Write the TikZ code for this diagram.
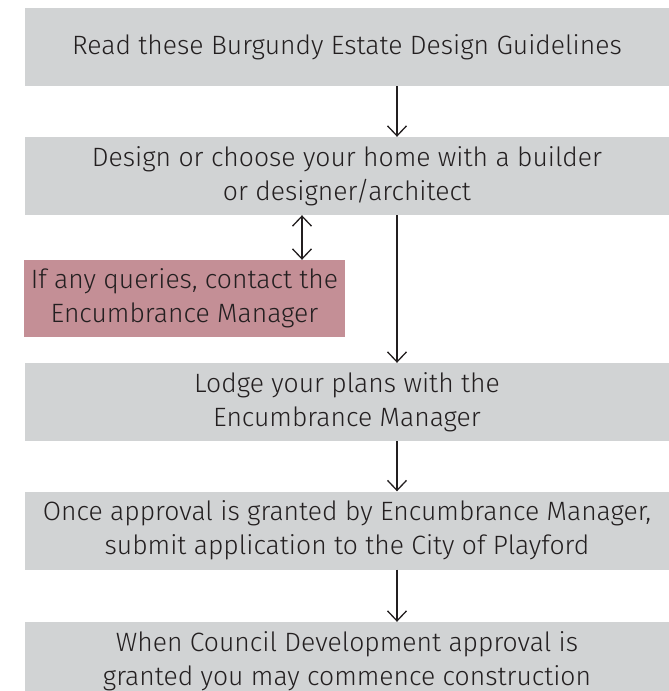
\documentclass[tikz,border=0pt]{standalone}
\usepackage{fontspec}
\setmainfont{Fira Sans}[UprightFont=* Light]
\usetikzlibrary{arrows.meta}

\definecolor{boxgrey}{RGB}{209,211,212}
\definecolor{boxpink}{RGB}{196,143,150}
\definecolor{ink}{RGB}{35,31,32}

\begin{document}
\begin{tikzpicture}[x=1pt, y=-1pt,
  stage/.style={fill=boxgrey, minimum width=644pt, minimum height=78pt,
    inner sep=0pt, align=center, text=ink, font=\fontsize{26.5}{34}\selectfont},
  query/.style={stage, fill=boxpink, minimum width=321pt, minimum height=77pt},
  flow/.style={ink, line width=1.3pt, -{Straight Barb[length=10pt, width=19pt]}},
  both/.style={flow, {Straight Barb[length=10pt, width=19pt]}-{Straight Barb[length=10pt, width=19pt]}}]
\useasboundingbox (0,0) rectangle (669,691);
\clip (0,0) rectangle (669,691);
% the steps, top to bottom
\node[stage] (read) at (347,47) {Read these Burgundy Estate Design Guidelines};
\node[stage] (design) at (347,176) {Design or choose your home with a builder\\or designer/architect};
\node[query] (query) at (184.5,298.5) {If any queries, contact the\\Encumbrance Manager};
\node[stage] (lodge) at (347,402) {Lodge your plans with the\\Encumbrance Manager};
\node[stage] (apply) at (347,530.5) {Once approval is granted by Encumbrance Manager,\\submit application to the City of Playford};
\node[stage] (build) at (347,661) {When Council Development approval is\\granted you may commence construction};
% arrows run down the spine, the query arrow off to the side
\coordinate (spine) at (397,0);
\coordinate (side) at (302,0);
\draw[flow] (read.south -| spine) -- (design.north -| spine);
\draw[both] (design.south -| side) -- (query.north -| side);
\draw[flow] (design.south -| spine) -- (lodge.north -| spine);
\draw[flow] (lodge.south -| spine) -- (apply.north -| spine);
\draw[flow] (apply.south -| spine) -- (build.north -| spine);
\end{tikzpicture}
\end{document}
